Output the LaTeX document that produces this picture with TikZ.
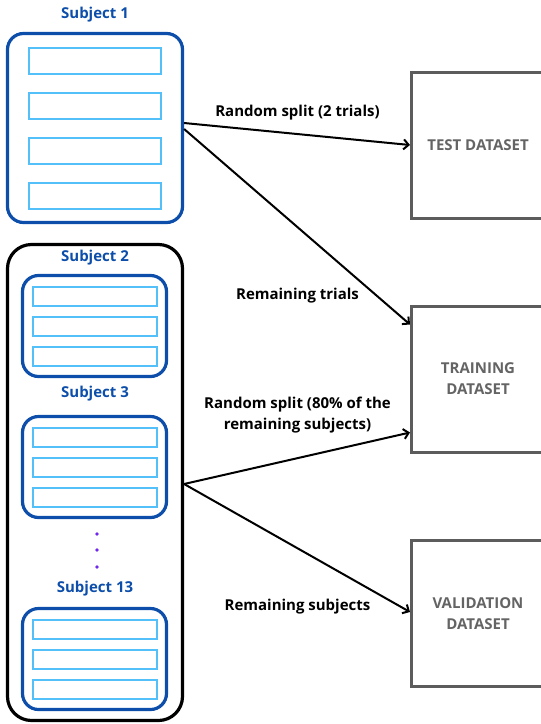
\documentclass[tikz,border=0pt]{standalone}
\usepackage{fontspec}
\setmainfont{Open Sans}
\usetikzlibrary{arrows.meta}
\definecolor{subjblue}{RGB}{12,78,170}
\definecolor{trialblue}{RGB}{84,192,250}
\definecolor{setgray}{RGB}{92,92,92}
\definecolor{settext}{RGB}{100,100,100}
\definecolor{dotpurple}{RGB}{112,40,235}

\begin{document}
\begin{tikzpicture}[x=1pt,y=-1pt,
  lbl/.style={font=\fontsize{15}{21}\selectfont\bfseries, align=center, inner sep=0},
  subj/.style={lbl, text=subjblue},
  subjbox/.style={draw=subjblue, line width=3.2pt, rounded corners=16pt},
  trial/.style={draw=trialblue, line width=1.6pt},
  setbox/.style={draw=setgray, line width=3pt, minimum width=133pt, minimum height=146pt,
    lbl, text=settext},
  split/.style={-{Straight Barb[length=5pt,width=10pt]}, line width=2pt}]
\useasboundingbox (0,0) rectangle (541,724);

% subject 1
\node[subj] (l1) at (95,15) {Subject 1};
\node[subjbox, minimum width=175pt, minimum height=189pt] (s1) at (95,128) {};
\foreach \r in {0,...,3}
  \draw[trial] (29,48+45*\r) rectangle (161,74+45*\r);

% remaining subjects
\node[draw, line width=3.2pt, rounded corners=24pt, minimum width=175pt, minimum height=476pt]
  (grp) at (95,482.5) {};
\foreach \n/\top/\ly in {2/274/258, 3/415/394, 13/607/589} {
  \node[subj] (l\n) at (95,\ly) {Subject \n};
  \node[subjbox, minimum width=144pt, minimum height=101pt] (s\n) at (94.5,\top+52) {};
  \foreach \r in {0, 1, 2}
    \draw[trial] (33,\top+13+30*\r) rectangle (157,\top+32+30*\r);
}
\foreach \y in {534, 550, 567}
  \fill[dotpurple] (97,\y) circle (1.8);

% datasets
\node[setbox] (test) at (478,145) {TEST DATASET};
\node[setbox] (train) at (478,379) {TRAINING\\DATASET};
\node[setbox] (val) at (478,613.5) {VALIDATION\\DATASET};

\draw[split] ([yshift=5pt]s1.east) -- (test.west);
\draw[split] ([yshift=-1pt]s1.east) -- ([yshift=-20pt]train.north west);
\draw[split] ([yshift=-1.5pt]grp.east) -- ([yshift=21pt]train.south west);
\draw[split] ([yshift=-1.5pt]grp.east) -- ([yshift=1.5pt]val.west);

\node[lbl] (t1) at (297.5,113) {Random split (2 trials)};
\node[lbl] (t2) at (297.5,296) {Remaining trials};
\node[lbl] (t3) at (297.5,415.5) {Random split (80\% of the\\remaining subjects)};
\node[lbl] (t4) at (297.5,607) {Remaining subjects};
\end{tikzpicture}
\end{document}
